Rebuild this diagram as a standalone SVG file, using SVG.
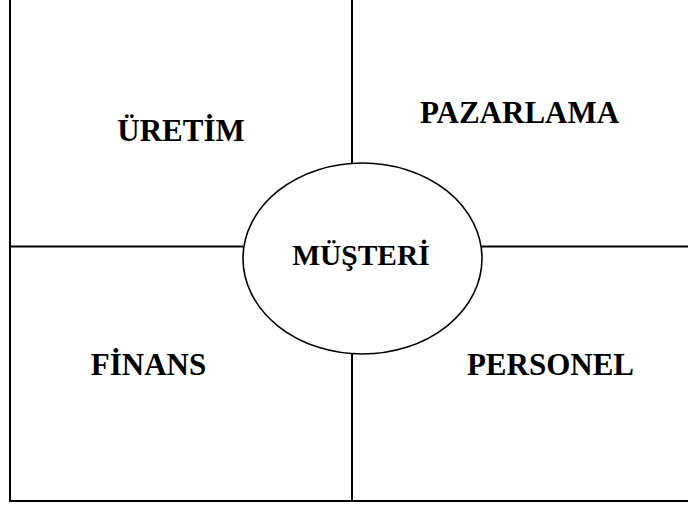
<svg xmlns="http://www.w3.org/2000/svg" width="688" height="506" viewBox="0 0 688 506">
<style>
.ln{stroke:#000;stroke-width:2;fill:none}
.lbl{font-family:"Liberation Serif","Times New Roman",serif;font-weight:bold;font-size:31px;fill:#000;text-anchor:middle}
</style>
<rect width="688" height="506" fill="#fff"/>
<g id="connectors">
<line class="ln" x1="10" y1="0" x2="10" y2="502"/>
<line class="ln" x1="9" y1="501" x2="688" y2="501"/>
<line class="ln" x1="352" y1="0" x2="352" y2="163"/>
<line class="ln" x1="352" y1="354" x2="352" y2="501"/>
<line class="ln" x1="10" y1="246.5" x2="243" y2="246.5"/>
<line class="ln" x1="482" y1="246.5" x2="688" y2="246.5"/>
</g>
<g id="uretim"><text class="lbl" x="181" y="141">ÜRETİM</text></g>
<g id="pazarlama"><text class="lbl" x="519.5" y="123">PAZARLAMA</text></g>
<g id="finans"><text class="lbl" x="148.5" y="375">FİNANS</text></g>
<g id="personel"><text class="lbl" x="550.5" y="375">PERSONEL</text></g>
<g id="musteri">
<ellipse cx="362.5" cy="258.5" rx="119.5" ry="95.5" fill="#fff" stroke="#000" stroke-width="1.6"/>
<text class="lbl" x="361" y="265" style="font-size:29.5px">MÜŞTERİ</text>
</g>
</svg>
